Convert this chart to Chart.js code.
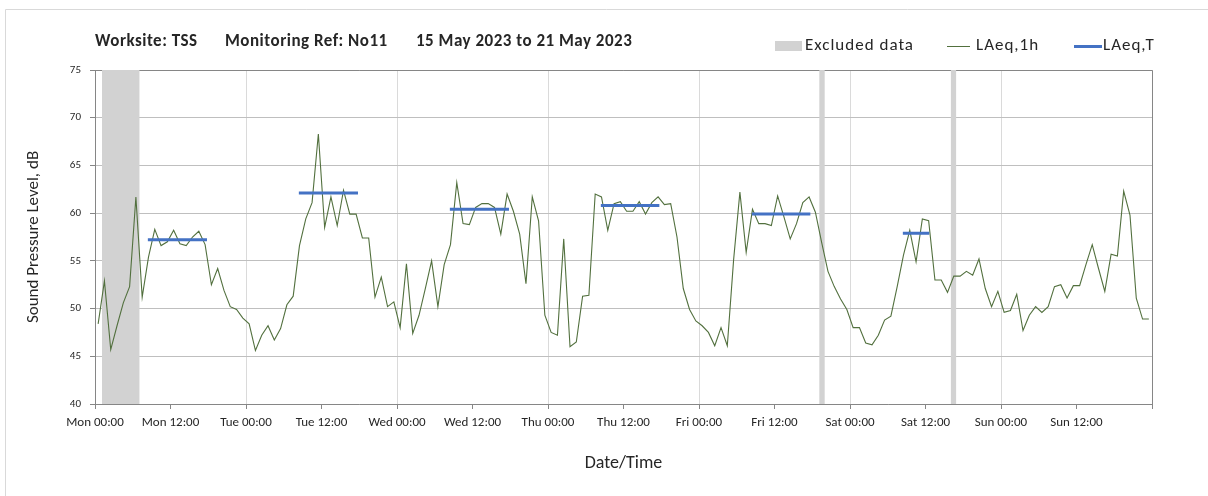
<!DOCTYPE html>
<html>
<head>
<meta charset="utf-8">
<title>Noise monitoring - TSS No11</title>
<script src="https://cdn.jsdelivr.net/npm/chart.js@4.4.0/dist/chart.umd.min.js"></script>
<style>
    html, body { margin: 0; padding: 0; background: #fff; }
    .chart-box { position: relative; width: 1208px; height: 496px; }
</style>
</head>
<body>
<div class="chart-box"><canvas id="noise-chart" width="1208" height="496"></canvas></div>
<script>
// Hourly LAeq,1h readings, Mon 00:00 to Sun 23:00 (one value per hour, dB)
const hourlyLevels = [
    48.4, 52.9, 45.7, 48.2, 50.6, 52.3, 61.7, 51.2, 55.4, 58.3, 56.6, 57.0,   // Mon
    58.2, 56.8, 56.6, 57.5, 58.1, 56.7, 52.5, 54.2, 51.9, 50.2, 49.9, 49.0,
    48.4, 45.6, 47.2, 48.2, 46.7, 47.9, 50.4, 51.3, 56.6, 59.4, 61.1, 68.3,   // Tue
    58.5, 61.7, 58.7, 62.4, 59.9, 59.9, 57.4, 57.4, 51.2, 53.3, 50.2, 50.7,
    48.0, 54.7, 47.4, 49.3, 52.1, 55.0, 50.2, 54.6, 56.7, 63.2, 58.9, 58.8,   // Wed
    60.6, 61.0, 61.0, 60.6, 57.8, 62.0, 60.2, 57.8, 52.6, 61.7, 59.2, 49.3,
    47.5, 47.2, 57.3, 46.0, 46.5, 51.3, 51.4, 62.0, 61.7, 58.2, 61.0, 61.2,   // Thu
    60.2, 60.2, 61.2, 59.9, 61.1, 61.7, 60.9, 61.0, 57.5, 52.1, 49.9, 48.7,
    48.2, 47.5, 46.1, 48.0, 46.1, 55.1, 62.2, 55.9, 60.4, 58.9, 58.9, 58.7,   // Fri
    61.8, 59.6, 57.3, 58.9, 61.1, 61.7, 60.1, 56.9, 53.9, 52.3, 51.0, 49.9,
    48.0, 48.0, 46.4, 46.2, 47.2, 48.8, 49.2, 52.3, 55.6, 58.2, 54.9, 59.4,   // Sat
    59.2, 53.0, 53.0, 51.7, 53.4, 53.4, 53.9, 53.5, 55.2, 52.1, 50.2, 51.8,
    49.6, 49.8, 51.5, 47.7, 49.3, 50.2, 49.6, 50.2, 52.3, 52.5, 51.1, 52.4,   // Sun
    52.4, 54.6, 56.7, 54.2, 51.8, 55.7, 55.5, 62.3, 59.8, 51.1, 48.9, 48.9
];

// LAeq,T daytime periods (hours from Mon 00:00) and their levels
const periodStart = [8.4, 32.4, 56.4, 80.4, 104.4, 128.4];
const periodEnd = [17.8, 41.8, 65.8, 89.7, 113.7, 132.6];
const periodLevels = [57.2, 62.1, 60.4, 60.8, 59.9, 57.9];

// Excluded data windows (hours from Mon 00:00)
const excludedStart = [1.1, 115.1, 136.0];
const excludedEnd = [7.1, 116.0, 136.9];

// Axis ticks every 12 hours
const tickLabels = [
    'Mon 00:00', 'Mon 12:00', 'Tue 00:00', 'Tue 12:00', 'Wed 00:00', 'Wed 12:00',
    'Thu 00:00', 'Thu 12:00', 'Fri 00:00', 'Fri 12:00', 'Sat 00:00', 'Sat 12:00',
    'Sun 00:00', 'Sun 12:00', ''
];

const FONT = 'Carlito, Calibri, Lato, sans-serif';
const TEXT = '#262626';
const AXIS = '#868686';
const HOURLY_COLOUR = '#52703e';
const PERIOD_COLOUR = '#4472c4';
const EXCLUDED_COLOUR = '#d2d2d2';

// Hourly values are plotted in the middle of each hour
const hourlyPoints = hourlyLevels.map((v, i) => ({ x: i + 0.5, y: v }));

// One flat segment per period, broken apart with null points
const periodPoints = [];
periodLevels.forEach((level, i) => {
    periodPoints.push({ x: periodStart[i], y: level });
    periodPoints.push({ x: periodEnd[i], y: level });
    periodPoints.push({ x: periodEnd[i], y: null });
});

// Excluded windows are filled down to the bottom of the axis
const excludedSets = excludedStart.map((start, i) => ({
    label: 'Excluded data',
    data: [{ x: start, y: 75 }, { x: excludedEnd[i], y: 75 }],
    borderWidth: 0,
    borderColor: EXCLUDED_COLOUR,
    backgroundColor: EXCLUDED_COLOUR,
    pointRadius: 0,
    fill: 'start',
    order: 3
}));

// Outer frame, plot border, heading and legend
const framePlugin = {
    id: 'frame',
    beforeDraw(chart) {
        const ctx = chart.ctx;
        ctx.save();
        ctx.strokeStyle = '#d9d9d9';
        ctx.lineWidth = 1;
        ctx.beginPath();
        ctx.moveTo(5.5, chart.height);
        ctx.lineTo(5.5, 9.5);
        ctx.lineTo(chart.width, 9.5);
        ctx.stroke();
        ctx.restore();
    },
    beforeDatasetsDraw(chart) {
        const { ctx, chartArea: a } = chart;
        ctx.save();
        ctx.strokeStyle = AXIS;
        ctx.lineWidth = 1;
        ctx.beginPath();
        ctx.moveTo(a.left, a.top + 0.5);
        ctx.lineTo(a.right + 0.5, a.top + 0.5);
        ctx.lineTo(a.right + 0.5, a.bottom);
        ctx.stroke();
        ctx.restore();
    },
    afterDraw(chart) {
        const ctx = chart.ctx;
        ctx.save();
        ctx.fillStyle = TEXT;
        ctx.textBaseline = 'middle';
        ctx.textAlign = 'left';

        // heading
        ctx.font = 'bold 17px ' + FONT;
        ctx.letterSpacing = '0.5px';
        ctx.fillText('Worksite: TSS', 95, 42);
        ctx.fillText('Monitoring Ref: No11', 225, 42);
        ctx.fillText('15 May 2023 to 21 May 2023', 416, 42);

        // legend
        ctx.font = '17px ' + FONT;
        ctx.letterSpacing = '1px';
        ctx.fillStyle = EXCLUDED_COLOUR;
        ctx.fillRect(775, 41, 27, 10);
        ctx.fillStyle = TEXT;
        ctx.fillText('Excluded data', 805, 46);

        ctx.strokeStyle = HOURLY_COLOUR;
        ctx.lineWidth = 1;
        ctx.beginPath();
        ctx.moveTo(947, 46.5);
        ctx.lineTo(970, 46.5);
        ctx.stroke();
        ctx.fillText('LAeq,1h', 976, 46);

        ctx.strokeStyle = PERIOD_COLOUR;
        ctx.lineWidth = 3;
        ctx.beginPath();
        ctx.moveTo(1074, 46.5);
        ctx.lineTo(1102, 46.5);
        ctx.stroke();
        ctx.fillText('LAeq,T', 1103, 46);
        ctx.restore();
    }
};

const ctx = document.getElementById('noise-chart').getContext('2d');
const noiseChart = new Chart(ctx, {
    type: 'line',
    data: {
        datasets: [
            {
                label: 'LAeq,T',
                data: periodPoints,
                borderColor: PERIOD_COLOUR,
                borderWidth: 3,
                pointRadius: 0,
                spanGaps: false,
                order: 1
            },
            {
                label: 'LAeq,1h',
                data: hourlyPoints,
                borderColor: HOURLY_COLOUR,
                borderWidth: 1.1,
                pointRadius: 0,
                tension: 0,
                order: 2
            },
            ...excludedSets
        ]
    },
    options: {
        responsive: false,
        animation: false,
        devicePixelRatio: 1,
        layout: { padding: { top: 70, right: 56, bottom: 0, left: 0 } },
        plugins: {
            legend: { display: false },
            title: { display: false },
            tooltip: { enabled: false }
        },
        scales: {
            x: {
                type: 'linear',
                min: 0,
                max: 168,
                afterBuildTicks: scale => {
                    scale.ticks = tickLabels.map((t, i) => ({ value: i * 12 }));
                },
                afterFit: scale => { scale.height = 92; },
                ticks: {
                    autoSkip: false,
                    maxRotation: 0,
                    padding: 6,
                    color: TEXT,
                    font: { family: FONT, size: 13 },
                    callback: (value) => tickLabels[value / 12] || ''
                },
                grid: {
                    color: c => (c.tick && c.tick.value % 24 === 0) ? '#dadada' : 'rgba(0,0,0,0)',
                    tickColor: AXIS,
                    tickLength: 5,
                    lineWidth: 1
                },
                border: { color: AXIS, width: 1 },
                title: {
                    display: true,
                    text: 'Date/Time',
                    color: TEXT,
                    font: { family: FONT, size: 18 },
                    padding: { top: 0, bottom: 22 }
                }
            },
            y: {
                min: 40,
                max: 75,
                afterFit: scale => { scale.width = 95; },
                ticks: {
                    stepSize: 5,
                    padding: 9,
                    color: TEXT,
                    font: { family: FONT, size: 11 }
                },
                grid: {
                    color: '#bfbfbf',
                    tickColor: AXIS,
                    tickLength: 5,
                    lineWidth: 1
                },
                border: { color: AXIS, width: 1 },
                title: {
                    display: true,
                    text: 'Sound Pressure Level, dB',
                    color: TEXT,
                    font: { family: FONT, size: 17 },
                    padding: { top: 24, bottom: 0 }
                }
            }
        }
    },
    plugins: [framePlugin]
});
</script>
</body>
</html>
